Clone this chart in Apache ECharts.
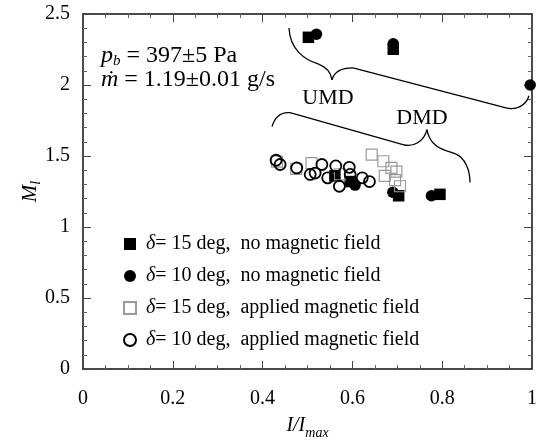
<!DOCTYPE html>
<html>
<head>
<meta charset="utf-8">
<script src="https://cdn.jsdelivr.net/npm/echarts@6/dist/echarts.min.js"></script>
<style>
html,body{margin:0;padding:0;background:#fff;}
#c{width:540px;height:445px;}
</style>
</head>
<body>
<div id="c"></div>
<script>
// ---- data ----
const seriesNames = [
  '15 deg,  no magnetic field',
  '10 deg,  no magnetic field',
  '15 deg,  applied magnetic field',
  '10 deg,  applied magnetic field'
];
const filledSquares = [[0.502,2.336],[0.691,2.252],[0.561,1.36],[0.595,1.32],[0.703,1.22],[0.795,1.23]];
const filledCircles = [[0.520,2.357],[0.691,2.29],[0.996,2.0],[0.606,1.295],[0.690,1.245],[0.776,1.22]];
const openSquares = [[0.432,1.46],[0.475,1.41],[0.509,1.45],[0.572,1.37],[0.643,1.51],[0.669,1.463],[0.687,1.416],[0.698,1.39],[0.672,1.36],[0.695,1.33],[0.706,1.287]];
const openCircles = [[0.430,1.47],[0.439,1.44],[0.476,1.416],[0.506,1.37],[0.517,1.38],[0.532,1.44],[0.545,1.346],[0.563,1.43],[0.571,1.287],[0.593,1.42],[0.595,1.37],[0.622,1.346],[0.638,1.32]];
const xTicks = [0, 0.2, 0.4, 0.6, 0.8, 1];
const yTicks = [0, 0.5, 1, 1.5, 2, 2.5];

const FONT = '"Liberation Serif", "Times New Roman", serif';
const chart = echarts.init(document.getElementById('c'), null, {renderer:'canvas'});

const axisCommon = {
  axisLine:{show:true, onZero:false, lineStyle:{color:'#111', width:1.5}},
  axisTick:{show:true, inside:true, length:8, lineStyle:{color:'#444', width:1}},
  minorTick:{show:true, length:4, lineStyle:{color:'#666', width:1}},
  splitLine:{show:false}
};

function fmtNum(v){ return String(v); }

const option = {
  animation:false,
  backgroundColor:'#fff',
  textStyle:{fontFamily:FONT},
  grid:{left:83, right:8, top:14, bottom:75},
  xAxis:[
    Object.assign({}, axisCommon, {
      type:'value', min:xTicks[0], max:xTicks[xTicks.length-1], interval:0.2,
      minorTick:Object.assign({}, axisCommon.minorTick, {splitNumber:4}),
      axisLabel:{color:'#000', fontFamily:FONT, fontSize:20, margin:20, formatter:fmtNum},
      name:'{i|I}{i|/}{i|I}{s|max}', nameLocation:'middle', nameGap:43,
      nameTextStyle:{fontFamily:FONT, rich:{
        i:{fontFamily:FONT, fontStyle:'italic', fontSize:20, color:'#000'},
        s:{fontFamily:FONT, fontStyle:'italic', fontSize:14, color:'#000', padding:[14,0,0,0]}
      }}
    }),
    Object.assign({}, axisCommon, {
      type:'value', position:'top', min:0, max:1, interval:0.2,
      minorTick:Object.assign({}, axisCommon.minorTick, {splitNumber:4}),
      axisLabel:{show:false}
    })
  ],
  yAxis:[
    Object.assign({}, axisCommon, {
      type:'value', min:yTicks[0], max:yTicks[yTicks.length-1], interval:0.5,
      minorTick:Object.assign({}, axisCommon.minorTick, {splitNumber:5}),
      axisLabel:{color:'#000', fontFamily:FONT, fontSize:20, margin:13, formatter:fmtNum},
      name:'{i|M}{s|l}', nameLocation:'middle', nameGap:40, nameRotate:90, nameMoveOverlap:false,
      nameTextStyle:{fontFamily:FONT, rich:{
        i:{fontFamily:FONT, fontStyle:'italic', fontSize:21, color:'#000'},
        s:{fontFamily:FONT, fontStyle:'italic', fontSize:14, color:'#000', padding:[12,0,0,0]}
      }}
    }),
    Object.assign({}, axisCommon, {
      type:'value', position:'right', min:0, max:2.5, interval:0.5,
      minorTick:Object.assign({}, axisCommon.minorTick, {splitNumber:5}),
      axisLabel:{show:false}
    })
  ],
  legend:{
    orient:'vertical', left:118, top:229,
    itemWidth:12, itemHeight:12, itemGap:12,
    data:seriesNames,
    formatter:function(n){ return '{d|δ}{t|= ' + n + '}'; },
    textStyle:{
      color:'#000', fontFamily:FONT, fontSize:20, lineHeight:20, padding:[0,0,0,5],
      rich:{
        d:{fontFamily:FONT, fontStyle:'italic', fontSize:20, color:'#000'},
        t:{fontFamily:FONT, fontSize:20, color:'#000'}
      }
    }
  },
  series:[
    {name:seriesNames[0], type:'scatter', data:filledSquares, symbol:'rect', symbolSize:11.5, clip:false,
     itemStyle:{color:'#000', opacity:1, borderWidth:0}},
    {name:seriesNames[1], type:'scatter', data:filledCircles, symbol:'circle', symbolSize:11.5, clip:false,
     itemStyle:{color:'#000', opacity:1, borderWidth:0}},
    {name:seriesNames[2], type:'scatter', data:openSquares, symbol:'rect', symbolSize:11, clip:false,
     itemStyle:{color:'rgba(255,255,255,0)', opacity:1, borderColor:'#9a9a9a', borderWidth:1.2}},
    {name:seriesNames[3], type:'scatter', data:openCircles, symbol:'circle', symbolSize:11, clip:false,
     itemStyle:{color:'rgba(255,255,255,0)', opacity:1, borderColor:'#000', borderWidth:1.8}}
  ]
};
chart.setOption(option);

// ---- annotations anchored in data coordinates ----
function P(x,y){ return chart.convertToPixel({gridIndex:0}, [x,y]); }
function braceElements(cmds){
  const els = [];
  let cur = null;
  const st = {stroke:'#000', lineWidth:1.3, fill:null};
  cmds.forEach(function(c){
    if(c[0]==='M'){ cur = P(c[1],c[2]); }
    else if(c[0]==='L'){
      const p = P(c[1],c[2]);
      els.push({type:'line', silent:true, z:10, shape:{x1:cur[0],y1:cur[1],x2:p[0],y2:p[1]}, style:st});
      cur = p;
    } else if(c[0]==='C'){
      const a = P(c[1],c[2]), b = P(c[3],c[4]), p = P(c[5],c[6]);
      els.push({type:'bezierCurve', silent:true, z:10, shape:{x1:cur[0],y1:cur[1],cpx1:a[0],cpy1:a[1],cpx2:b[0],cpy2:b[1],x2:p[0],y2:p[1]}, style:st});
      cur = p;
    }
  });
  return els;
}
const umdBrace = [
  ['M',0.4588,2.4017],
  ['C',0.461,2.247, 0.4944,2.177, 0.5234,2.149],
  ['C',0.5412,2.128, 0.5523,2.0857, 0.5546,2.0365],
  ['C',0.559,2.093, 0.5768,2.121, 0.6013,2.121],
  ['L',0.9399,1.84],
  ['C',0.9644,1.819, 0.9866,1.854, 0.9933,1.924]
];
const dmdBrace = [
  ['M',0.4209,1.7065],
  ['C',0.4276,1.7767, 0.4388,1.8118, 0.461,1.8048],
  ['L',0.7127,1.58],
  ['C',0.735,1.559, 0.7595,1.601, 0.7661,1.6854],
  ['C',0.7706,1.601, 0.7862,1.559, 0.8085,1.5379],
  ['L',0.8285,1.5169],
  ['C',0.8508,1.4888, 0.8619,1.4045, 0.8619,1.3132]
];
const umdPos = P(0.5457,1.907), dmdPos = P(0.755,1.765);
const noteA = P(0.04,2.205), noteB = P(0.04,2.036);

const graphics = braceElements(umdBrace).concat(braceElements(dmdBrace)).concat([
  {type:'text', x:umdPos[0], y:umdPos[1], z:10, style:{text:'UMD', fontFamily:FONT, fontSize:22, fill:'#000', align:'center', verticalAlign:'middle'}},
  {type:'text', x:dmdPos[0], y:dmdPos[1], z:10, style:{text:'DMD', fontFamily:FONT, fontSize:22, fill:'#000', align:'center', verticalAlign:'middle'}},
  {type:'text', x:noteA[0], y:noteA[1], z:10, style:{
    text:'{i|p}{s|b}{t| = 397±5 Pa}', verticalAlign:'middle',
    rich:{
      i:{fontFamily:FONT, fontStyle:'italic', fontSize:24, fill:'#000'},
      s:{fontFamily:FONT, fontStyle:'italic', fontSize:15, fill:'#000', padding:[10,0,0,0]},
      t:{fontFamily:FONT, fontSize:24, fill:'#000'}
    }}},
  {type:'text', x:noteB[0], y:noteB[1], z:10, style:{
    text:'{i|ṁ}{t| = 1.19±0.01 g/s}', verticalAlign:'middle',
    rich:{
      i:{fontFamily:FONT, fontStyle:'italic', fontSize:24, fill:'#000'},
      t:{fontFamily:FONT, fontSize:24, fill:'#000'}
    }}}
]);
chart.setOption({graphic:graphics});
</script>
</body>
</html>
